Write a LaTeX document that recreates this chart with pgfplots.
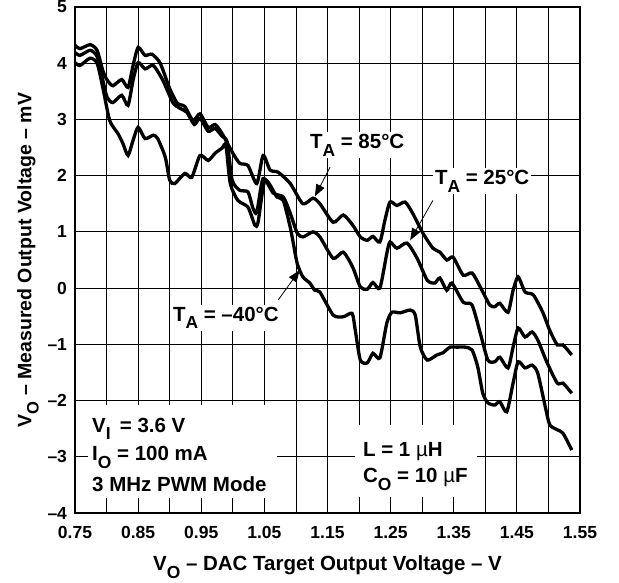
\documentclass[border=0pt]{standalone}
\usepackage{fontspec}
\setmainfont{Liberation Sans}
\usepackage{graphicx}
\usepackage{pgfplots}
\usepackage{pgfplotstable}
\pgfplotsset{compat=1.18}
\usetikzlibrary{arrows.meta}

\newcommand\sub[1]{\raisebox{-0.38em}{\scalebox{0.85}{#1}}}
\newcommand\annot{\fontsize{20.5}{22}\selectfont\bfseries}

\pgfplotstableread{
x y
0.750 4.32
0.758 4.26
0.774 4.33
0.785 4.23
0.794 3.87
0.801 3.70
0.810 3.60
0.824 3.71
0.834 3.57
0.842 3.96
0.850 4.28
0.861 4.14
0.872 4.16
0.885 4.00
0.900 3.55
0.912 3.29
0.924 3.23
0.937 2.98
0.948 3.10
0.961 2.86
0.972 2.91
0.983 2.75
1.000 2.40
1.011 2.22
1.024 2.18
1.038 1.86
1.048 2.36
1.059 2.10
1.072 2.06
1.091 1.86
1.111 1.50
1.127 1.60
1.138 1.50
1.159 1.17
1.175 1.30
1.190 1.12
1.202 0.91
1.213 0.85
1.222 0.92
1.233 0.82
1.241 1.21
1.249 1.53
1.260 1.47
1.273 1.53
1.285 1.33
1.301 0.98
1.317 0.71
1.328 0.64
1.339 0.50
1.349 0.55
1.365 0.23
1.379 0.27
1.392 0.02
1.407 -0.30
1.415 -0.33
1.423 -0.27
1.436 -0.43
1.444 -0.04
1.452 0.20
1.463 -0.07
1.476 -0.12
1.491 -0.43
1.502 -0.75
1.514 -1.01
1.523 -1.01
1.537 -1.19
}\tabHot

\pgfplotstableread{
x y
0.750 4.19
0.758 4.14
0.774 4.23
0.785 4.12
0.794 3.70
0.801 3.39
0.810 3.30
0.824 3.43
0.834 3.25
0.842 3.70
0.850 4.01
0.861 3.90
0.874 3.96
0.889 3.70
0.905 3.30
0.916 3.20
0.927 3.13
0.939 2.91
0.948 3.02
0.961 2.79
0.972 2.84
0.983 2.70
0.991 2.60
0.999 1.92
1.011 1.74
1.024 1.71
1.032 1.42
1.038 1.35
1.048 1.95
1.064 1.69
1.080 1.62
1.091 1.33
1.102 0.98
1.111 0.91
1.127 1.00
1.138 0.91
1.159 0.53
1.175 0.64
1.190 0.37
1.202 0.02
1.213 -0.02
1.222 0.10
1.233 0.00
1.244 0.62
1.249 0.82
1.260 0.71
1.276 0.80
1.292 0.53
1.308 0.14
1.320 0.09
1.328 0.18
1.339 -0.04
1.347 0.09
1.365 -0.25
1.379 -0.30
1.392 -0.80
1.404 -1.28
1.415 -1.31
1.423 -1.23
1.436 -1.42
1.444 -1.05
1.452 -0.71
1.463 -0.87
1.474 -0.78
1.483 -0.92
1.498 -1.33
1.514 -1.69
1.523 -1.69
1.537 -1.87
}\tabRoom

\pgfplotstableread{
x y
0.750 4.01
0.758 3.96
0.774 4.09
0.785 4.00
0.794 3.57
0.805 2.98
0.818 2.75
0.826 2.57
0.834 2.36
0.842 2.63
0.850 2.86
0.861 2.66
0.874 2.72
0.881 2.66
0.893 2.33
0.900 1.92
0.908 1.86
0.924 2.04
0.935 1.97
0.948 2.36
0.961 2.27
0.972 2.40
0.983 2.49
0.989 2.54
0.996 1.86
1.008 1.56
1.024 1.44
1.035 1.12
1.040 1.17
1.051 1.92
1.070 1.62
1.080 1.56
1.091 1.08
1.095 0.85
1.102 0.44
1.111 0.20
1.122 0.09
1.130 -0.04
1.138 -0.07
1.159 -0.48
1.175 -0.51
1.189 -0.45
1.194 -0.75
1.202 -1.28
1.213 -1.33
1.222 -1.16
1.233 -1.24
1.244 -0.62
1.252 -0.43
1.265 -0.44
1.281 -0.39
1.289 -0.48
1.297 -1.05
1.308 -1.28
1.323 -1.19
1.333 -1.15
1.344 -1.05
1.355 -1.05
1.368 -1.05
1.379 -1.10
1.388 -1.40
1.396 -1.87
1.404 -2.04
1.415 -2.08
1.423 -2.02
1.434 -2.20
1.444 -1.69
1.452 -1.31
1.463 -1.42
1.474 -1.37
1.483 -1.51
1.495 -2.11
1.502 -2.43
1.514 -2.52
1.523 -2.58
1.537 -2.88
}\tabCold

\begin{document}
\begin{tikzpicture}
\begin{axis}[name=ax, scale only axis, width=505pt, height=506pt,
  xmin=0.75, xmax=1.55, ymin=-4, ymax=5,
  xtick={0.75,0.85,0.95,1.05,1.15,1.25,1.35,1.45,1.55},
  xticklabels={0.75,0.85,0.95,1.05,1.15,1.25,1.35,1.45,1.55},
  minor xtick={0.8,0.9,1.0,1.1,1.2,1.3,1.4,1.5},
  ytick={-4,-3,-2,-1,0,1,2,3,4,5},
  yticklabels={–4,–3,–2,–1,0,1,2,3,4,5},
  grid=both,
  major grid style={black, line width=0.8pt},
  minor grid style={black, line width=0.8pt},
  major tick length=0pt, minor tick length=0pt,
  axis line style={line width=2.4pt},
  tick label style={font=\fontsize{17.5}{17.5}\selectfont\bfseries},
  xticklabel style={anchor=north, yshift=-9.5pt},
  yticklabel style={anchor=east, xshift=-4.5pt},
  xlabel={V\sub{O} – DAC Target Output Voltage – V},
  ylabel={V\sub{O} – Measured Output Voltage – mV},
  xlabel style={font=\fontsize{20.5}{22}\selectfont\bfseries, at={(axis description cs:0.5,-0.1146)}, anchor=base},
  ylabel style={font=\fontsize{19.5}{21}\selectfont\bfseries, at={(axis description cs:-0.093,0.5)}, anchor=center},
]
\addplot[black, line width=3.3pt, smooth, tension=0.4] table[x=x,y=y] {\tabHot};
\addplot[black, line width=3.3pt, smooth, tension=0.4] table[x=x,y=y] {\tabRoom};
\addplot[black, line width=3.3pt, smooth, tension=0.4] table[x=x,y=y] {\tabCold};

\node[fill=white, inner sep=2pt, font=\annot] at (axis cs:1.197,2.54) {T\sub{A} = 85°C};
\node[fill=white, inner sep=2pt, font=\annot] at (axis cs:1.395,1.90) {T\sub{A} = 25°C};
\node[fill=white, inner sep=2pt, font=\annot] at (axis cs:0.989,-0.53) {T\sub{A} = –40°C};

\draw[-{Triangle[length=12pt,width=9pt]}, line width=0.8pt] (axis cs:1.154,2.15) -- (axis cs:1.130,1.63);
\draw[-{Triangle[length=12pt,width=9pt]}, line width=0.8pt] (axis cs:1.317,1.56) -- (axis cs:1.281,0.85);
\draw[-{Triangle[length=12pt,width=9pt]}, line width=0.8pt] (axis cs:1.072,-0.21) -- (axis cs:1.106,0.32);

\fill[white] (axis cs:0.771,-2.08) rectangle (axis cs:1.070,-3.73);
\node[anchor=base west, inner sep=0pt, font=\annot] at (axis cs:0.777,-2.56) {V\sub{I}\, = 3.6 V};
\node[anchor=base west, inner sep=0pt, font=\annot] at (axis cs:0.777,-3.07) {I\sub{O} = 100 mA};
\node[anchor=base west, inner sep=0pt, font=\annot] at (axis cs:0.777,-3.61) {3 MHz PWM Mode};

\fill[white] (axis cs:1.194,-2.43) rectangle (axis cs:1.387,-3.71);
\node[anchor=base west, inner sep=0pt, font=\annot] at (axis cs:1.206,-3.00) {L = 1 {\mdseries µ}H};
\node[anchor=base west, inner sep=0pt, font=\annot] at (axis cs:1.206,-3.46) {C\sub{O} = 10 {\mdseries µ}F};
\end{axis}
\pgfresetboundingbox
\path (ax.south west) ++(-75pt,-70pt) rectangle ++(619pt,583pt);
\end{tikzpicture}
\end{document}
